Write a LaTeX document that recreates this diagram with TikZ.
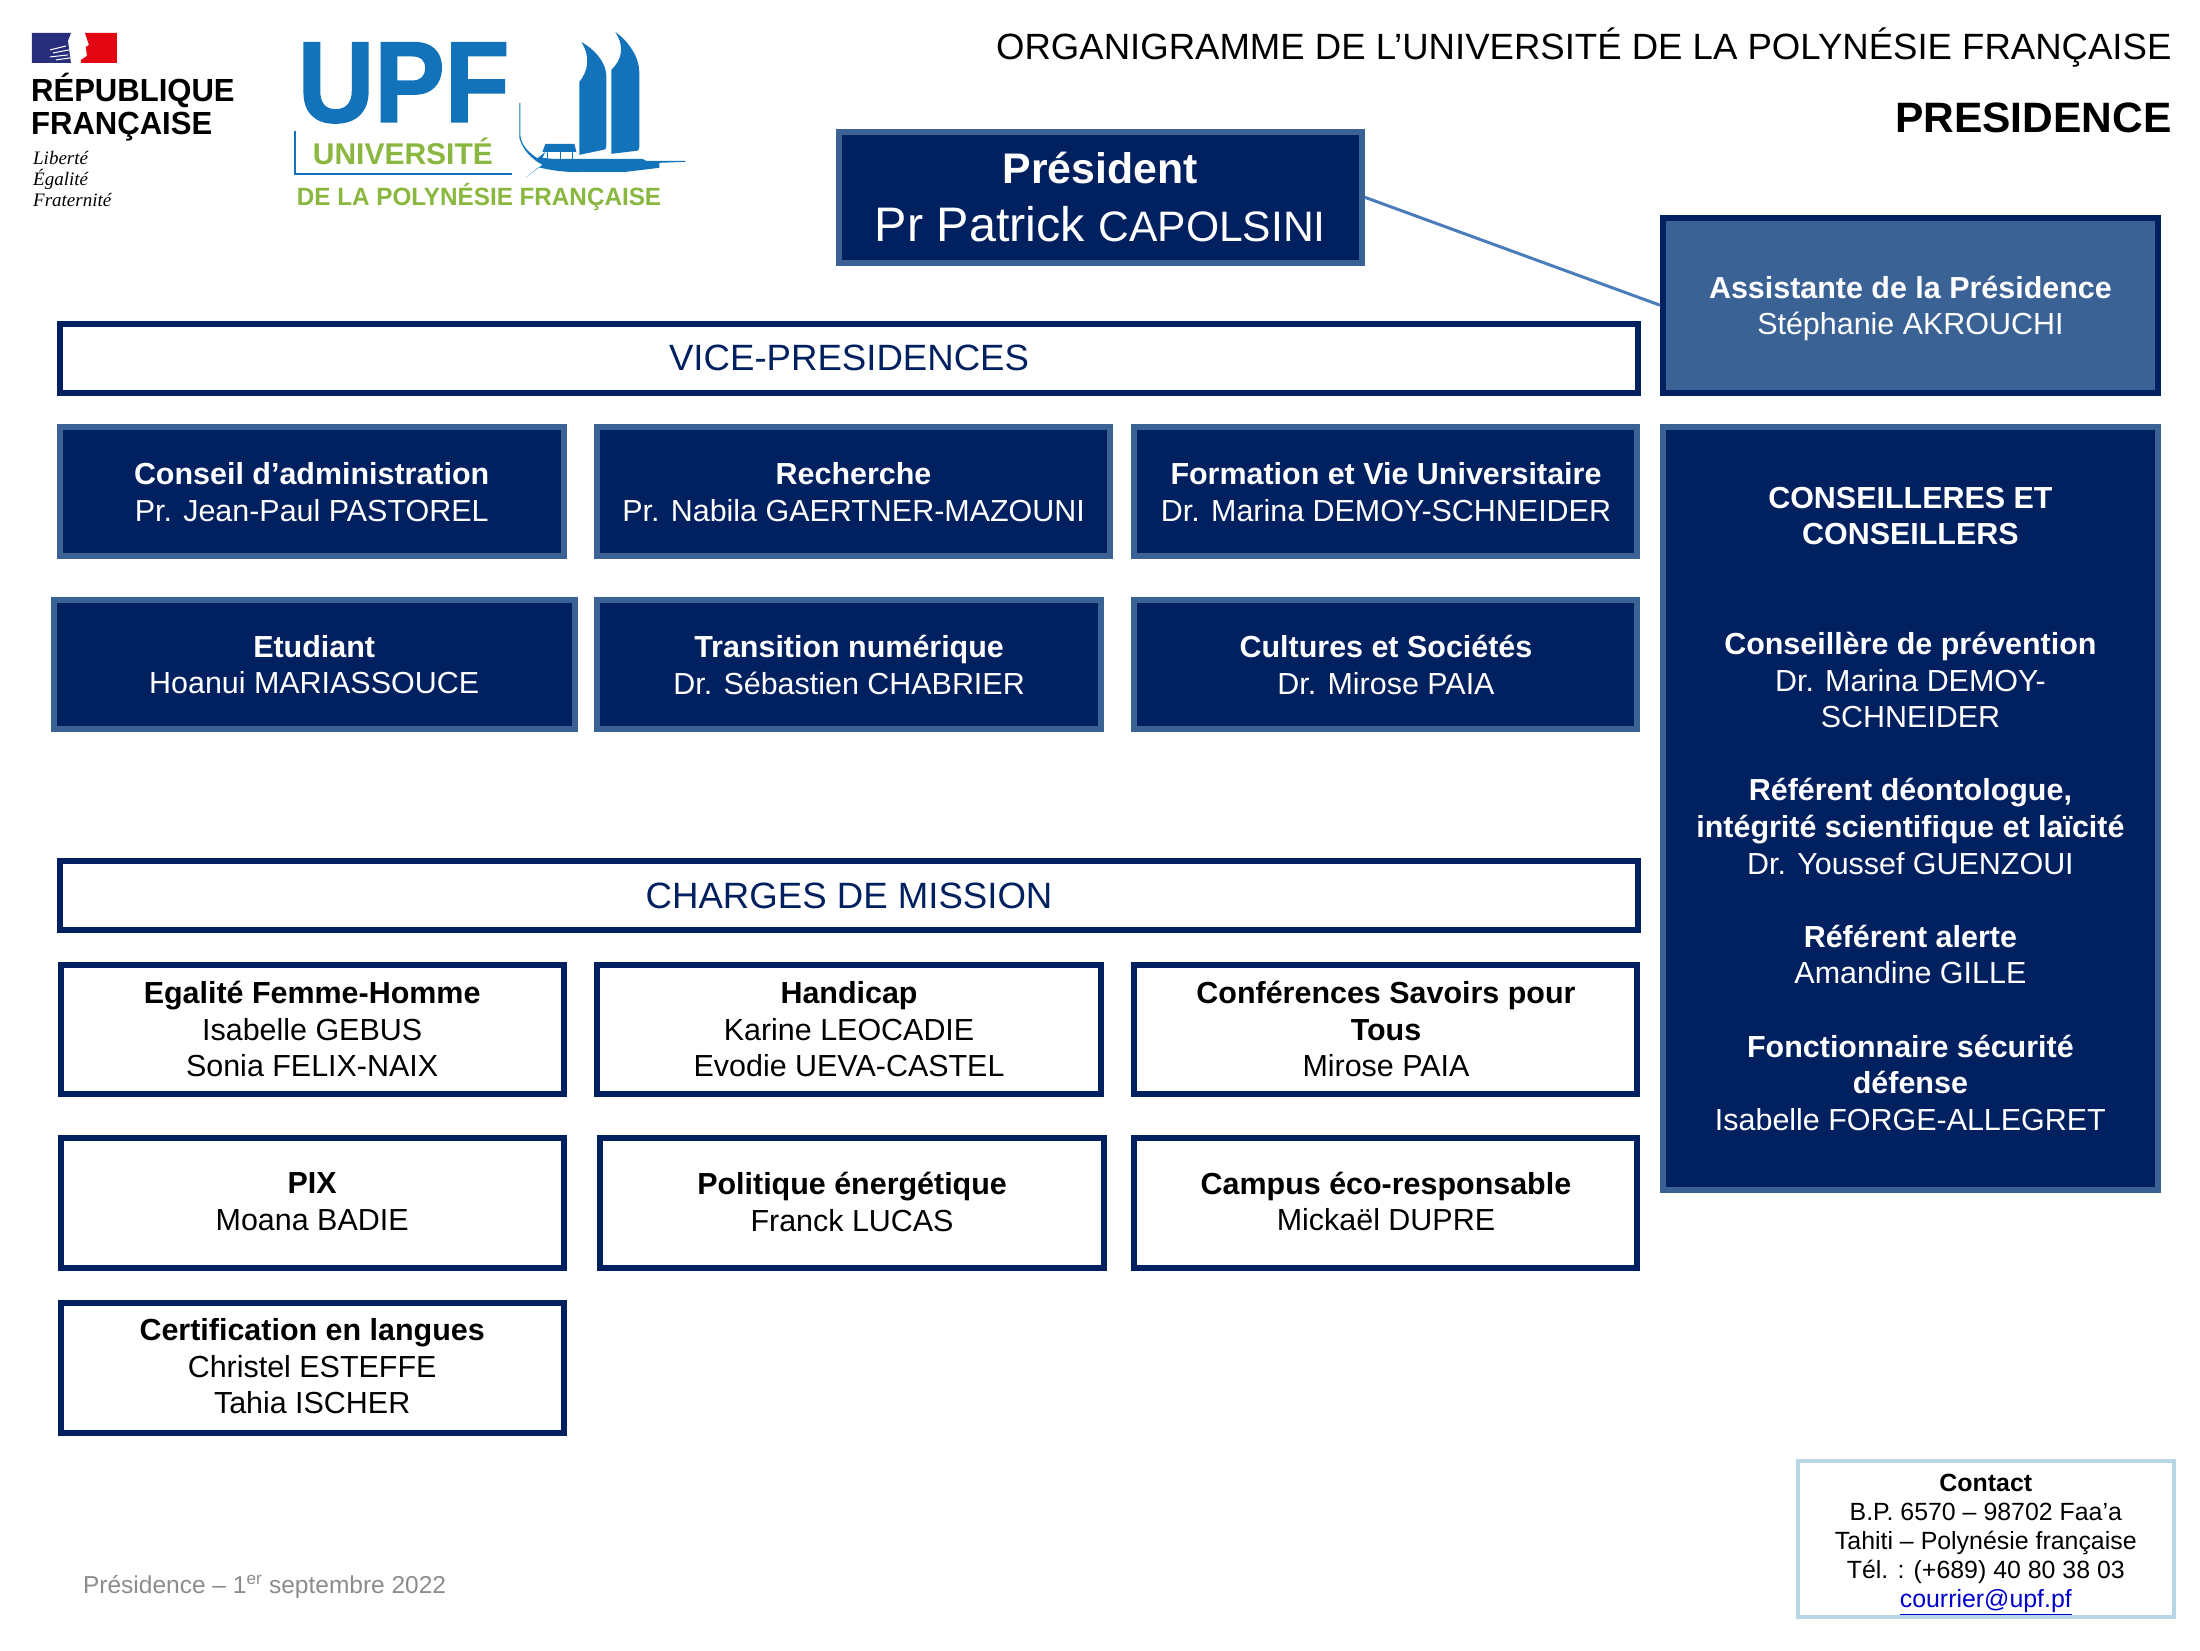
\documentclass[tikz,border=0pt]{standalone}
\usepackage{fontspec}
\setmainfont{Liberation Sans}
\newfontfamily\serifit{Liberation Serif}
\newfontfamily\upfheavy[BoldFeatures={FakeBold=1.5}]{Liberation Sans}
\definecolor{navy}{HTML}{002060}
\definecolor{steel}{HTML}{3B6295}
\definecolor{linkblue}{HTML}{4A7EBB}
\definecolor{upfblue}{HTML}{1273BB}
\definecolor{upfgreen}{HTML}{8AB73F}
\definecolor{contactline}{HTML}{B7D7E6}
\definecolor{footgray}{HTML}{8C8C8C}
\definecolor{flagblue}{HTML}{272F7D}
\definecolor{flagred}{HTML}{E20613}
\newcommand\fs[2]{\fontsize{#1}{#2}\selectfont}
\newcommand\tup[1]{\rule[-#1pt]{0pt}{#1pt}}
\newcommand\tdn[1]{\rule{0pt}{#1pt}}
\tikzset{
  x=0.9989pt,y=-0.9989pt,
  bx/.style n args={4}{at={({(#1+#3)/2},{(#2+#4)/2})},minimum width={#3-#1-4},minimum height={#4-#2-4}},
  base/.style={line width=6pt,inner sep=0pt,align=center,font=\fs{30.45}{36.6}},
  navybox/.style={base,draw=steel,fill=navy,text=white},
  steelbox/.style={base,draw=navy,fill=steel,text=white},
  whitebox/.style={base,draw=navy,fill=white,text=black},
  barbox/.style={base,draw=navy,fill=white,text=navy,font=\fs{36.6}{40}},
  contactbox/.style={line width=4pt,draw=contactline,fill=white,inner sep=0pt,align=center,font=\fs{24.9}{29.2}},
  link/.style={line width=3pt,draw=linkblue},
  logoblue/.style={fill=upfblue,draw=none},
  lbl/.style={inner sep=0pt,anchor=base west}
}
\begin{document}
\begin{tikzpicture}
\useasboundingbox (0,0) rectangle (2202.42,1651.82);
% République française block
\fill[flagblue] (32,33) -- (71,33) -- (68,41) -- (71,63) -- (32,63) -- cycle;
\fill[flagred] (85,33) -- (117,33) -- (117,63) -- (81,63) -- (81,60) -- (87,56) -- (86,47) -- (89,45) -- cycle;
\draw[white,line width=1pt] (50,50) -- (66,46) (53,53) -- (69,50) (50,57) -- (68,55) (56,60) -- (70,58);
\node[lbl,font=\fs{32}{34}\bfseries] (rep1) at (31,101.8) {\scalebox{.97}[1]{RÉPUBLIQUE}};
\node[lbl,font=\fs{32}{34}\bfseries] (rep2) at (31,134.8) {\scalebox{.97}[1]{FRANÇAISE}};
\node[lbl,font=\fs{19}{20}\serifit\itshape] (dev1) at (33,165) {Liberté};
\node[lbl,font=\fs{19}{20}\serifit\itshape] (dev2) at (33,186) {Égalité};
\node[lbl,font=\fs{19}{20}\serifit\itshape] (dev3) at (33,207) {Fraternité};
% UPF logo
\node[lbl,text=upfblue,font=\fs{115}{116}\upfheavy\bfseries] (upf) at (298,122) {\scalebox{.92}[1]{UPF}};
\draw[upfblue,line width=2pt] (295,131) -- (295,174.5) -- (513,174.5);
\node[lbl,text=upfgreen,font=\fs{30}{32}\bfseries] (univ) at (313,165) {UNIVERSITÉ};
\node[lbl,text=upfgreen,font=\fs{25}{26}\bfseries] (dlpf) at (297,206) {\scalebox{.97}[1]{DE LA POLYNÉSIE FRANÇAISE}};
% boat
\path[logoblue] (582,42) .. controls (596,50) and (606,62) .. (607,75) -- (607,145) .. controls (607,149) and (606,150) .. (604,150) -- (580,155) -- (580,82) .. controls (588,72) and (592,58) .. (582,42) -- cycle;
\path[logoblue] (616,32) .. controls (630,42) and (640,58) .. (640,72) -- (640,147) .. controls (640,150) and (639,151) .. (637,151) -- (612,154) -- (612,70) .. controls (622,60) and (626,48) .. (616,32) -- cycle;
\path[logoblue] (520,103) -- (520,138) .. controls (523,150) and (533,160) .. (543,165) -- (526,178) -- (539,167.5) .. controls (550,170) and (565,173) .. (585,172) -- (627,172) -- (660,168) -- (660,163) -- (686,162) -- (686,161) -- (647,161) -- (643,159) -- (553,159) -- (543,158) -- (546,152) -- (538,158.5) .. controls (530,153) and (522,146) .. (521,136) -- (521,103) -- cycle;
\fill[upfblue] (546,144) -- (575,144) -- (577,152) -- (543,152) -- cycle;
\draw[upfblue,line width=1.5pt] (548,151) -- (548,160) (561,151) -- (561,160) (573,151) -- (573,160);
% titles
\node[inner sep=0pt,anchor=base east,font=\fs{36.55}{40}] (title) at (2174,60) {ORGANIGRAMME DE L’UNIVERSITÉ DE LA POLYNÉSIE FRANÇAISE};
\node[inner sep=0pt,anchor=base east,font=\fs{42.5}{46}\bfseries] (sub) at (2174,133) {PRESIDENCE};
% top boxes
\node[navybox,bx={838}{130}{1365}{265},font=\fs{42.8}{58}] (pres) {\textbf{Président}\\\fs{48.5}{58}Pr Patrick \fs{42.6}{58}CAPOLSINI};
\node[steelbox,bx={1663}{216}{2162}{395}] (assist) {\tdn{29}\textbf{Assistante de la Présidence}\\Stéphanie AKROUCHI};
\draw[link] (pres.east) -- (assist.west);
% vice-présidences
\node[barbox,bx={59}{322}{1641}{395}] (vp) {VICE-PRESIDENCES};
\node[navybox,bx={58}{426}{566}{559}] (ca) {\textbf{Conseil d’administration}\\Pr. Jean-Paul PASTOREL};
\node[navybox,bx={596}{426}{1113}{559}] (rech) {\textbf{Recherche}\\Pr. Nabila GAERTNER-MAZOUNI};
\node[navybox,bx={1134}{426}{1641}{559}] (form) {\textbf{Formation et Vie Universitaire}\\Dr. Marina DEMOY-SCHNEIDER};
\node[navybox,bx={52}{599}{577}{732}] (etud) {\textbf{Etudiant}\\Hoanui MARIASSOUCE};
\node[navybox,bx={596}{599}{1104}{732}] (trans) {\textbf{Transition numérique}\\Dr. Sébastien CHABRIER};
\node[navybox,bx={1134}{599}{1641}{732}] (cult) {\textbf{Cultures et Sociétés}\\Dr. Mirose PAIA};
% conseillers
\node[navybox,bx={1663}{426}{2162}{1193}] (cons) {\textbf{CONSEILLERES ET}\\\textbf{CONSEILLERS}\\\mbox{}\\\mbox{}\\\textbf{Conseillère de prévention}\\Dr. Marina DEMOY-\\SCHNEIDER\\\mbox{}\\\textbf{Référent déontologue,}\\\textbf{intégrité scientifique et laïcité}\\Dr. Youssef GUENZOUI\\\mbox{}\\\textbf{Référent alerte}\\Amandine GILLE\\\mbox{}\\\textbf{Fonctionnaire sécurité}\\\textbf{défense}\\Isabelle FORGE-ALLEGRET};
% chargés de mission
\node[barbox,bx={59}{860}{1641}{933}] (cm) {CHARGES DE MISSION};
\node[whitebox,bx={59}{964}{566}{1097}] (ega) {\textbf{Egalité Femme-Homme}\\Isabelle GEBUS\\Sonia FELIX-NAIX};
\node[whitebox,bx={596}{964}{1104}{1097}] (hand) {\textbf{Handicap}\\Karine LEOCADIE\\Evodie UEVA-CASTEL};
\node[whitebox,bx={1134}{964}{1641}{1097}] (conf) {\textbf{Conférences Savoirs pour}\\\textbf{Tous}\\Mirose PAIA};
\node[whitebox,bx={59}{1137}{566}{1271}] (pix) {\textbf{PIX}\\Moana BADIE\tup{2}};
\node[whitebox,bx={599}{1137}{1107}{1271}] (pol) {\textbf{Politique énergétique}\\Franck LUCAS\tup{2}};
\node[whitebox,bx={1134}{1137}{1641}{1271}] (camp) {\textbf{Campus éco-responsable}\\Mickaël DUPRE\tup{3}};
\node[whitebox,bx={59}{1302}{566}{1436}] (cert) {\textbf{Certification en langues}\\Christel ESTEFFE\\Tahia ISCHER\tup{3}};
% contact
\node[contactbox,minimum width=376pt,minimum height=156pt] (contact) at (1988,1541) {\tdn{27.5}\textbf{Contact}\\B.P. 6570 – 98702 Faa’a\\Tahiti – Polynésie française\\Tél. : (+689) 40 80 38 03\\\textcolor[HTML]{0000CC}{\underline{courrier@upf.pf}}};
% footer
\node[lbl,text=footgray,font=\fs{24.5}{28}] (foot) at (83,1595) {Présidence – 1\textsuperscript{er} septembre 2022};
\end{tikzpicture}
\end{document}
